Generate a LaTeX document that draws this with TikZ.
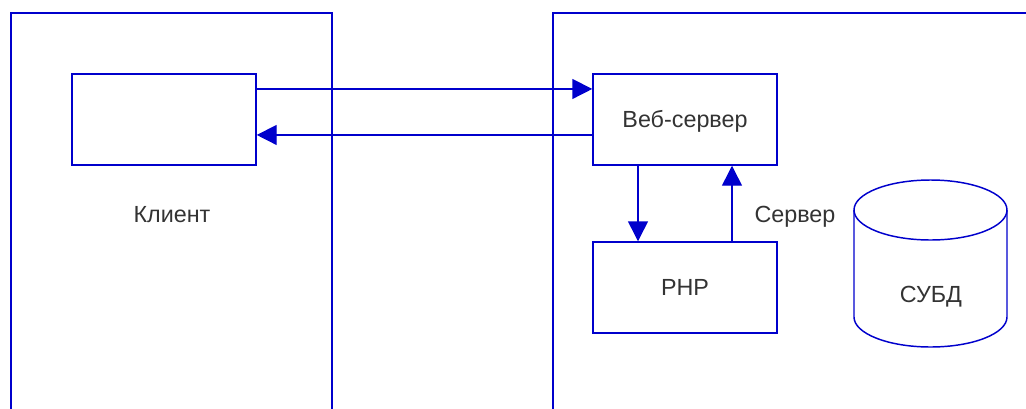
\documentclass[tikz,border=0pt]{standalone}
\usepackage{fontspec}
\setmainfont{Liberation Sans}
\usetikzlibrary{arrows.meta}
\definecolor{lineblue}{HTML}{0000CC}
\definecolor{textgray}{HTML}{333333}
\tikzset{
  wire/.style={draw=lineblue, line width=1.1pt},
  flow/.style={wire, -{Triangle[length=15pt,width=15pt]}},
  block/.style={wire, rectangle, minimum width=138pt, minimum height=68.25pt,
    text height=12.5pt, text depth=0pt, inner sep=0pt, font=\fontsize{17.5pt}{20pt}\selectfont, text=textgray},
  caption/.style={anchor=base, inner sep=0pt, font=\fontsize{17.5pt}{20pt}\selectfont, text=textgray}
}
\begin{document}
\begin{tikzpicture}[x=0.75pt, y=-0.75pt]
  \useasboundingbox (0,0) rectangle (1026,408);

  % client and server zones (open at the bottom and on the right)
  \draw[wire] (11,412) -- (11,13) -- (332,13) -- (332,412);
  \draw[wire] (553,412) -- (553,13) -- (1030,13);

  % boxes
  \node[block] (client) at (164,119.5) {};
  \node[block] (web) at (685,119.5) {Веб-сервер};
  \node[block] (php) at (685,287.5) {PHP};

  % labels
  \node[caption] (clientlbl) at (172,222) {Клиент};
  \node[caption] (serverlbl) at (795,222) {Сервер};

  % database cylinder
  \draw[wire] (854,210) -- (854,317)
    arc[start angle=180, end angle=360, x radius=57.375pt, y radius=22.5pt]
    -- (1007,210);
  \draw[wire] (930.5,210) ellipse[x radius=57.375pt, y radius=22.5pt];
  \node[caption] (dbms) at (931,302) {СУБД};

  % request / response
  \draw[flow] ([yshift=22.9pt]client.east) -- ([yshift=22.9pt]web.west);
  \draw[flow] ([yshift=-11.6pt]web.west) -- ([yshift=-11.6pt]client.east);

  % web server <-> PHP
  \draw[flow] ([xshift=-35.25pt]web.south) -- ([xshift=-35.25pt]php.north);
  \draw[flow] ([xshift=35.25pt]php.north) -- ([xshift=35.25pt]web.south);
\end{tikzpicture}
\end{document}
